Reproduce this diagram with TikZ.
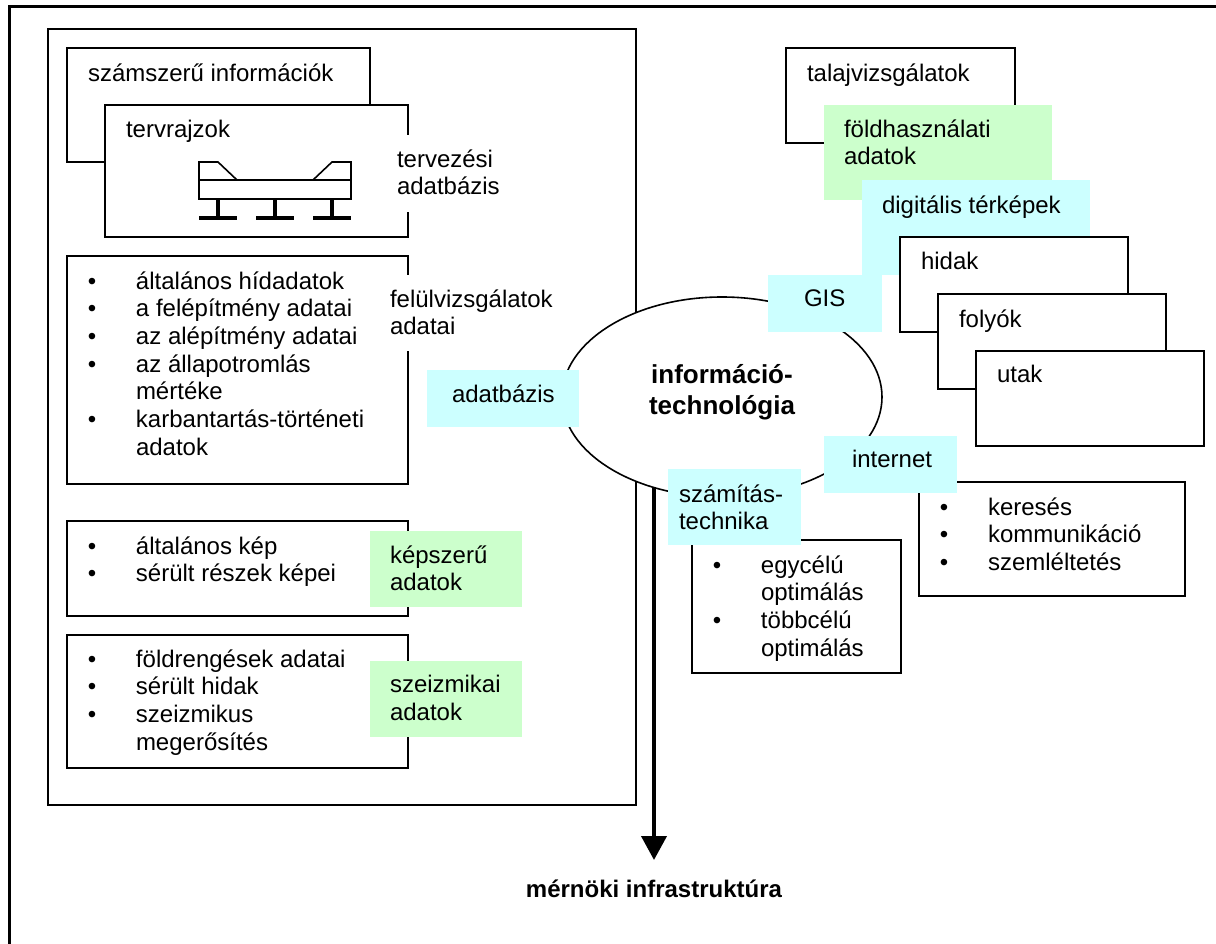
\documentclass[tikz,border=0pt]{standalone}
\usepackage{fontspec}
\setmainfont{Liberation Sans}
\usetikzlibrary{arrows.meta, positioning, shapes.geometric}

\definecolor{lightcyan}{HTML}{CCFFFF}
\definecolor{lightgreen}{HTML}{CCFFCC}

\newcommand{\itm}[1]{\llap{\textbullet\hspace{39.8pt}}#1}

\tikzset{
    databox/.style={draw=black, fill=white, line width=2pt, rectangle, anchor=north west, inner sep=0pt, outer sep=0pt},
    cyanbox/.style={fill=lightcyan, rectangle, anchor=north west, inner sep=0pt, outer sep=0pt},
    greenbox/.style={fill=lightgreen, rectangle, anchor=north west, inner sep=0pt, outer sep=0pt},
    whitepatch/.style={fill=white, rectangle, anchor=north west, inner sep=0pt, outer sep=0pt},
    txt/.style={inner sep=0pt, outer sep=0pt, align=left, font=\fontsize{24}{27.7}\selectfont},
    deck/.style={line width=1.6pt, line join=miter},
    pier/.style={line width=3.6pt}
}

\begin{document}
\begin{tikzpicture}[x=1pt, y=-1pt]
    \useasboundingbox (0,0) rectangle (1216,944);

    % outer frame and the large left box
    \draw[line width=2.6pt] (9.5,944) -- (9.5,6.5) -- (1216,6.5);
    \node[databox, minimum width=588pt, minimum height=776pt] (database_frame) at (48,29) {};

    % design database
    \node[databox, minimum width=303pt, minimum height=114pt] (numeric) at (67,48) {};
    \node[txt, below right=15.5pt and 21pt of numeric.north west] (numeric_text) {számszerű információk};
    \node[databox, minimum width=303pt, minimum height=132pt] (plans) at (105,105) {};
    \node[txt, below right=15.5pt and 21pt of plans.north west] (plans_text) {tervrajzok};
    \node[whitepatch, minimum width=90pt, minimum height=77pt] (design_patch) at (390,135) {};
    \node[txt, below right=14.5pt and 7pt of design_patch.north west] (design_text) {tervezési\\adatbázis};

    % bridge sketch
    \draw[deck] (237,180) -- (218,162) -- (199,162) -- (199,199) -- (351,199) -- (351,162) -- (332,162) -- (313,180);
    \draw[deck] (199,180) -- (351,180);
    \foreach \px in {218,275,332} {
        \draw[pier] (\px,199) -- (\px,218);
        \draw[pier] (\px-19,218) -- (\px+19,218);
    }

    % inspection data
    \node[databox, minimum width=341pt, minimum height=228pt] (inspection) at (67,256) {};
    \node[txt, below right=15.5pt and 69pt of inspection.north west] (inspection_text) {\itm{általános hídadatok}\\\itm{a felépítmény adatai}\\\itm{az alépítmény adatai}\\\itm{az állapotromlás}\\mértéke\\\itm{karbantartás-történeti}\\adatok};
    \node[whitepatch, minimum width=184pt, minimum height=76pt] (inspection_patch) at (372,275) {};
    \node[txt, below right=14.5pt and 18pt of inspection_patch.north west] (inspection_label) {felülvizsgálatok\\adatai};

    % image data
    \node[databox, minimum width=341pt, minimum height=95pt] (images) at (67,521) {};
    \node[txt, below right=15.5pt and 69pt of images.north west] (images_text) {\itm{általános kép}\\\itm{sérült részek képei}};
    \node[greenbox, minimum width=152pt, minimum height=76pt] (images_tag) at (370,531) {};
    \node[txt, below right=14.5pt and 20pt of images_tag.north west] (images_label) {képszerű\\adatok};

    % seismic data
    \node[databox, minimum width=341pt, minimum height=133pt] (seismic) at (67,635) {};
    \node[txt, below right=14.5pt and 69pt of seismic.north west] (seismic_text) {\itm{földrengések adatai}\\\itm{sérült hidak}\\\itm{szeizmikus}\\megerősítés};
    \node[greenbox, minimum width=152pt, minimum height=76pt] (seismic_tag) at (370,661) {};
    \node[txt, below right=14.5pt and 20pt of seismic_tag.north west] (seismic_label) {szeizmikai\\adatok};

    % map layers
    \node[databox, minimum width=229pt, minimum height=95pt] (soil) at (786,48) {};
    \node[txt, below right=15.5pt and 21pt of soil.north west] (soil_text) {talajvizsgálatok};
    \node[greenbox, minimum width=228pt, minimum height=95pt] (landuse) at (824,105) {};
    \node[txt, below right=14.5pt and 20pt of landuse.north west] (landuse_text) {földhasználati\\adatok};
    \node[cyanbox, minimum width=228pt, minimum height=95pt] (digimaps) at (862,180) {};
    \node[txt, below right=15.5pt and 20pt of digimaps.north west] (digimaps_text) {digitális térképek};
    \node[databox, minimum width=228pt, minimum height=95pt] (bridges) at (900,237) {};
    \node[txt, below right=15.5pt and 21pt of bridges.north west] (bridges_text) {hidak};
    \node[databox, minimum width=228pt, minimum height=95pt] (rivers) at (938,294) {};
    \node[txt, below right=15.5pt and 21pt of rivers.north west] (rivers_text) {folyók};
    \node[databox, minimum width=228pt, minimum height=95pt] (roads) at (976,351) {};
    \node[txt, below right=14.5pt and 21pt of roads.north west] (roads_text) {utak};

    % lists under the ellipse
    \node[databox, minimum width=266pt, minimum height=114pt] (search) at (919,482) {};
    \node[txt, below right=15.5pt and 69pt of search.north west] (search_text) {\itm{keresés}\\\itm{kommunikáció}\\\itm{szemléltetés}};
    \node[databox, minimum width=209pt, minimum height=133pt] (optim) at (692,540) {};
    \node[txt, below right=15.5pt and 69pt of optim.north west] (optim_text) {\itm{egycélú}\\optimálás\\\itm{többcélú}\\optimálás};

    % centre
    \coordinate (arrow_start) at (654,488);
    \coordinate (arrow_end) at (654,860);
    \draw[-{Triangle[width=25pt, length=24pt]}, line width=4pt] (arrow_start) -- (arrow_end);
    \node[draw=black, fill=white, line width=1.6pt, ellipse, inner sep=0pt, outer sep=0pt, minimum width=320pt, minimum height=200pt] (infotech) at (722,397) {};
    \node[txt, align=center, font=\fontsize{26}{31}\selectfont\bfseries] (infotech_text) at ([yshift=5pt]infotech.center) {információ-\\technológia};
    \node[txt, font=\fontsize{24}{27.7}\selectfont\bfseries, below=20pt of arrow_end] (infra) {mérnöki infrastruktúra};

    % tags on the ellipse
    \node[cyanbox, minimum width=152pt, minimum height=57pt] (db_tag) at (427,370) {};
    \node[txt, below right=14.5pt and 25pt of db_tag.north west] (db_label) {adatbázis};
    \node[cyanbox, minimum width=114pt, minimum height=57pt] (gis_tag) at (768,275) {};
    \node[txt, below right=14.5pt and 36pt of gis_tag.north west] (gis_label) {GIS};
    \node[cyanbox, minimum width=133pt, minimum height=57pt] (internet_tag) at (824,436) {};
    \node[txt, below right=14.5pt and 28pt of internet_tag.north west] (internet_label) {internet};
    \node[cyanbox, minimum width=133pt, minimum height=76pt] (comp_tag) at (668,469) {};
    \node[txt, below right=15.5pt and 11pt of comp_tag.north west] (comp_label) {számítás-\\technika};
\end{tikzpicture}
\end{document}
